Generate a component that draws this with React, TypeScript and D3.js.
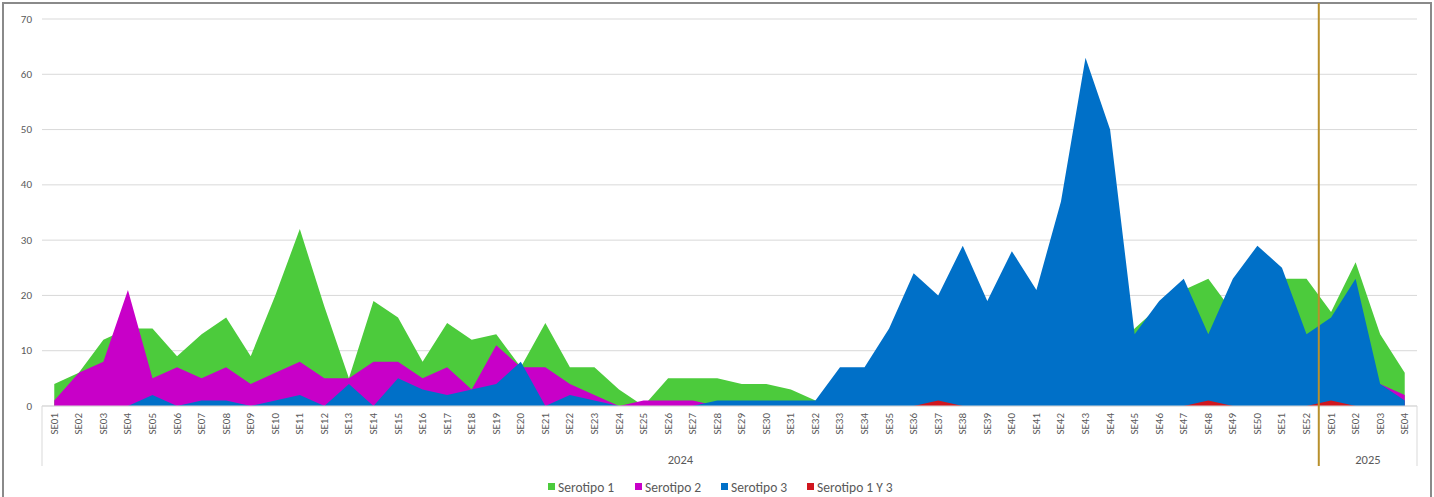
import React from "react";
import * as d3 from "d3";

const weeks2024: string[] = Array.from({ length: 52 }, (_, i) => `SE${String(i + 1).padStart(2, "0")}`);
const weeks2025: string[] = ["SE01", "SE02", "SE03", "SE04"];
const categories: string[] = [...weeks2024, ...weeks2025];
const yearLabels: string[] = ["2024", "2025"];
const yTicks: number[] = [0, 10, 20, 30, 40, 50, 60, 70];

const serotipo1: number[] = [
  4, 6, 12, 14, 14, 9, 13, 16, 9, 20, 32, 18, 5, 19, 16, 8, 15, 12, 13, 7,
  15, 7, 7, 3, 0, 5, 5, 5, 4, 4, 3, 1, 2, 1, 3, 2, 4, 3, 5, 4,
  6, 8, 10, 9, 14, 18, 21, 23, 17, 20, 23, 23, 17, 26, 13, 6,
];
const serotipo2: number[] = [
  1, 6, 8, 21, 5, 7, 5, 7, 4, 6, 8, 5, 5, 8, 8, 5, 7, 3, 11, 7,
  7, 4, 2, 0, 1, 1, 1, 0, 0, 0, 0, 0, 0, 0, 0, 0, 0, 0, 0, 0,
  0, 0, 0, 0, 0, 0, 0, 0, 0, 0, 0, 0, 0, 0, 4, 2,
];
const serotipo3: number[] = [
  0, 0, 0, 0, 2, 0, 1, 1, 0, 1, 2, 0, 4, 0, 5, 3, 2, 3, 4, 8,
  0, 2, 1, 0, 0, 0, 0, 1, 1, 1, 1, 1, 7, 7, 14, 24, 20, 29, 19, 28,
  21, 37, 63, 50, 13, 19, 23, 13, 23, 29, 25, 13, 16, 23, 4, 1,
];
const serotipo1y3: number[] = [
  0, 0, 0, 0, 0, 0, 0, 0, 0, 0, 0, 0, 0, 0, 0, 0, 0, 0, 0, 0,
  0, 0, 0, 0, 0, 0, 0, 0, 0, 0, 0, 0, 0, 0, 0, 0, 1, 0, 0, 0,
  0, 0, 0, 0, 0, 0, 0, 1, 0, 0, 0, 0, 1, 0, 0, 0,
];

const seriesNames = ["Serotipo 1", "Serotipo 2", "Serotipo 3", "Serotipo 1 Y 3"];
const seriesColors = ["#4ccb3c", "#c800c8", "#0070c8", "#d0161e"];
const seriesData = [serotipo1, serotipo2, serotipo3, serotipo1y3];

const W = 1434;
const H = 497;
const left = 42;
const right = 1417;
const top = 19;
const bottom = 406;
const FONT = "Calibri, Carlito, Lato, 'Liberation Sans', sans-serif";

export default function App() {
  const x = d3
    .scaleBand<number>()
    .domain(categories.map((_, i) => i))
    .range([left, right])
    .paddingInner(0)
    .paddingOuter(0);
  const bw = x.bandwidth();
  const cx = (i: number) => (x(i) as number) + bw / 2;
  const y = d3.scaleLinear().domain([0, 70]).range([bottom, top]);

  const area = d3
    .area<number>()
    .x((_, i) => cx(i))
    .y0(y(0))
    .y1((d) => y(d));

  const splitX = x(weeks2024.length) as number;
  const groupBottom = 466;

  const legendItems = [
    { x: 548, label: seriesNames[0], color: seriesColors[0] },
    { x: 635, label: seriesNames[1], color: seriesColors[1] },
    { x: 721, label: seriesNames[2], color: seriesColors[2] },
    { x: 807, label: seriesNames[3], color: seriesColors[3] },
  ];

  return (
    <svg
      width={W}
      height={H}
      style={{ position: "absolute", left: 0, top: 0, fontFamily: FONT }}
    >
      <rect x={0} y={0} width={W} height={H} fill="#ffffff" />
      <rect x={3} y={3} width={1428} height={495} fill="none" stroke="#8a8a8a" strokeWidth={2} />

      {yTicks.map((t) => (
        <g key={t}>
          <line x1={left} x2={right} y1={y(t)} y2={y(t)} stroke="#d9d9d9" strokeWidth={1} />
          <text
            x={32}
            y={y(t)}
            textAnchor="end"
            dominantBaseline="central"
            fontSize={11}
            fill="#595959"
          >
            {t}
          </text>
        </g>
      ))}

      {seriesData.map((s, k) => (
        <path key={k} d={area(s) || ""} fill={seriesColors[k]} />
      ))}

      <line x1={left} x2={right} y1={bottom} y2={bottom} stroke="#d9d9d9" strokeWidth={1} />

      {categories.map((c, i) => (
        <text
          key={i}
          transform={`translate(${cx(i)},${413}) rotate(-90)`}
          textAnchor="end"
          dominantBaseline="central"
          fontSize={11}
          fill="#595959"
        >
          {c}
        </text>
      ))}

      <line x1={left} x2={left} y1={bottom} y2={groupBottom} stroke="#d9d9d9" strokeWidth={1} />
      <line x1={right} x2={right} y1={bottom} y2={groupBottom} stroke="#d9d9d9" strokeWidth={1} />
      <text x={(left + splitX) / 2} y={459} textAnchor="middle" dominantBaseline="central" fontSize={12.5} fill="#595959">
        {yearLabels[0]}
      </text>
      <text x={(splitX + right) / 2} y={459} textAnchor="middle" dominantBaseline="central" fontSize={12.5} fill="#595959">
        {yearLabels[1]}
      </text>

      <line x1={splitX} x2={splitX} y1={3} y2={groupBottom} stroke="#b8902c" strokeWidth={2} />

      {legendItems.map((it) => (
        <g key={it.label}>
          <rect x={it.x} y={483} width={7} height={7} fill={it.color} />
          <text x={it.x + 10} y={487} dominantBaseline="central" fontSize={13.5} fill="#595959">
            {it.label}
          </text>
        </g>
      ))}
    </svg>
  );
}
